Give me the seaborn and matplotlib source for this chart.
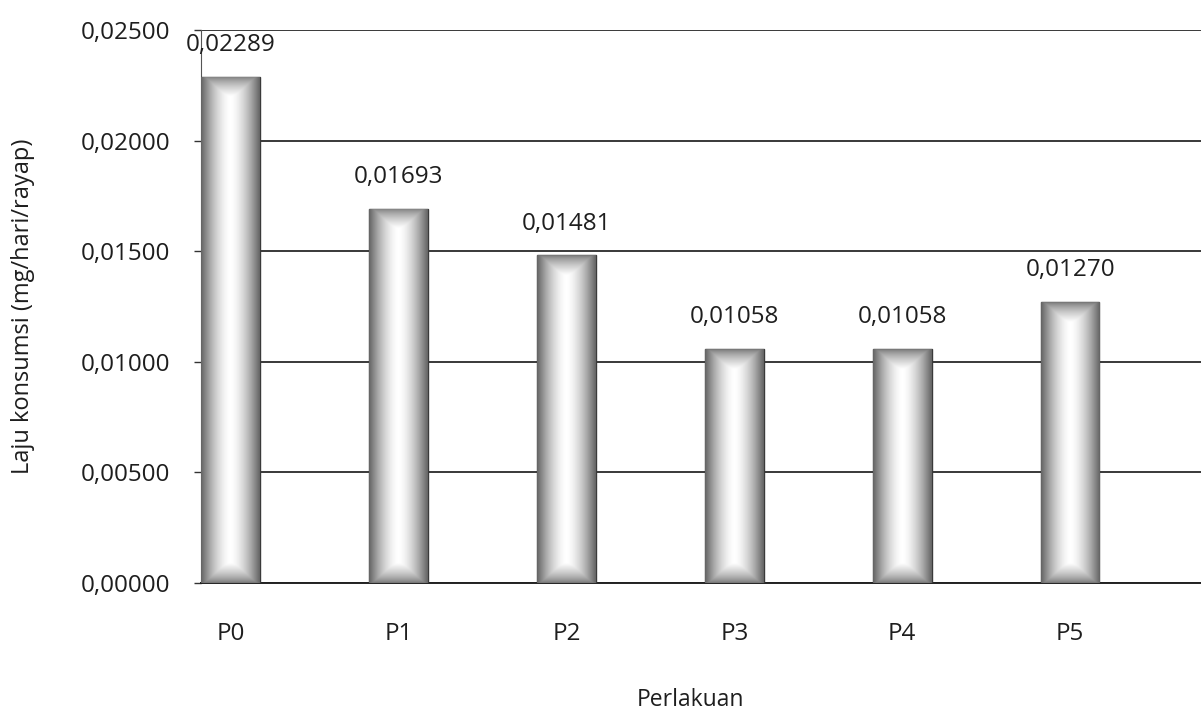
import numpy as np
import pandas as pd
import matplotlib
matplotlib.use("Agg")
import matplotlib.pyplot as plt
import seaborn as sns

# Consumption rate per treatment
perlakuan = ["P0", "P1", "P2", "P3", "P4", "P5"]
laju = [0.02289, 0.01693, 0.01481, 0.01058, 0.01058, 0.01270]
y_ticks = [0.0, 0.005, 0.010, 0.015, 0.020, 0.025]

df = pd.DataFrame({"Perlakuan": perlakuan, "Laju": laju})

sns.set_style("white")
plt.rcParams["font.family"] = ["Open Sans", "DejaVu Sans"]

FS = 17.5
TXT = "#1e1e1e"

fig = plt.figure(figsize=(12.01, 7.17), dpi=100)
ax = fig.add_axes([0.167, 0.187, 0.833, 0.771])

sns.barplot(data=df, x="Perlakuan", y="Laju", ax=ax, width=0.35,
            color="#bbbbbb", edgecolor="#3a3a3a", linewidth=1.0, zorder=3)

def fmt(v):
    return f"{v:.5f}".replace(".", ",")

ax.set_xlim(-0.18, 5.78)
ax.set_ylim(0, 0.025)
ax.set_yticks(y_ticks)
ax.set_yticklabels([fmt(v) for v in y_ticks], fontsize=FS, color=TXT)
ax.tick_params(axis="x", labelsize=FS, colors=TXT, length=0, pad=28)
ax.tick_params(axis="y", length=5, width=1, color="#333333", direction="out", left=True, pad=17)

# gridlines
ax.grid(axis="y", color="#2a2a2a", linewidth=1.3, zorder=1)
ax.set_axisbelow(True)
for s in ["top", "right"]:
    ax.spines[s].set_visible(False)
ax.spines["left"].set_color("#555555")
ax.spines["left"].set_linewidth(0.8)
ax.spines["bottom"].set_color("#222222")
ax.spines["bottom"].set_linewidth(1.4)

# shaded cylinder-like fill for each bar
for patch in ax.patches:
    x0, w, h = patch.get_x(), patch.get_width(), patch.get_height()
    nx = 60
    ny = max(int(h / 0.00002), 10)
    u = np.linspace(-1, 1, nx)
    horiz = 0.40 + 0.60 * (1 - np.abs(u) ** 1.6)
    yy = np.linspace(0, h, ny)[:, None]
    top = np.clip((h - yy) / 0.0009, 0, 1)
    bot = np.clip(yy / 0.0009, 0, 1)
    vert = 0.45 + 0.55 * np.minimum(top, bot) ** 0.7
    img = np.minimum(horiz[None, :], vert)
    im = ax.imshow(img, cmap="gray", vmin=0, vmax=1, origin="lower",
                   extent=[x0, x0 + w, 0, h], aspect="auto",
                   interpolation="bilinear", zorder=3.5)
    im.set_clip_path(patch)
    ax.text(x0 + w / 2, h + 0.0009, fmt(h), ha="center", va="bottom",
            fontsize=FS, color=TXT, zorder=5)

ax.set_ylabel("Laju konsumsi (mg/hari/rayap)", fontsize=17, color=TXT)
ax.yaxis.set_label_coords(-0.165, 0.5)
ax.set_xlabel("Perlakuan", fontsize=16.5, color=TXT)
ax.xaxis.set_label_coords(0.49, -0.19)

fig.savefig("out.png", dpi=100, facecolor="white")
